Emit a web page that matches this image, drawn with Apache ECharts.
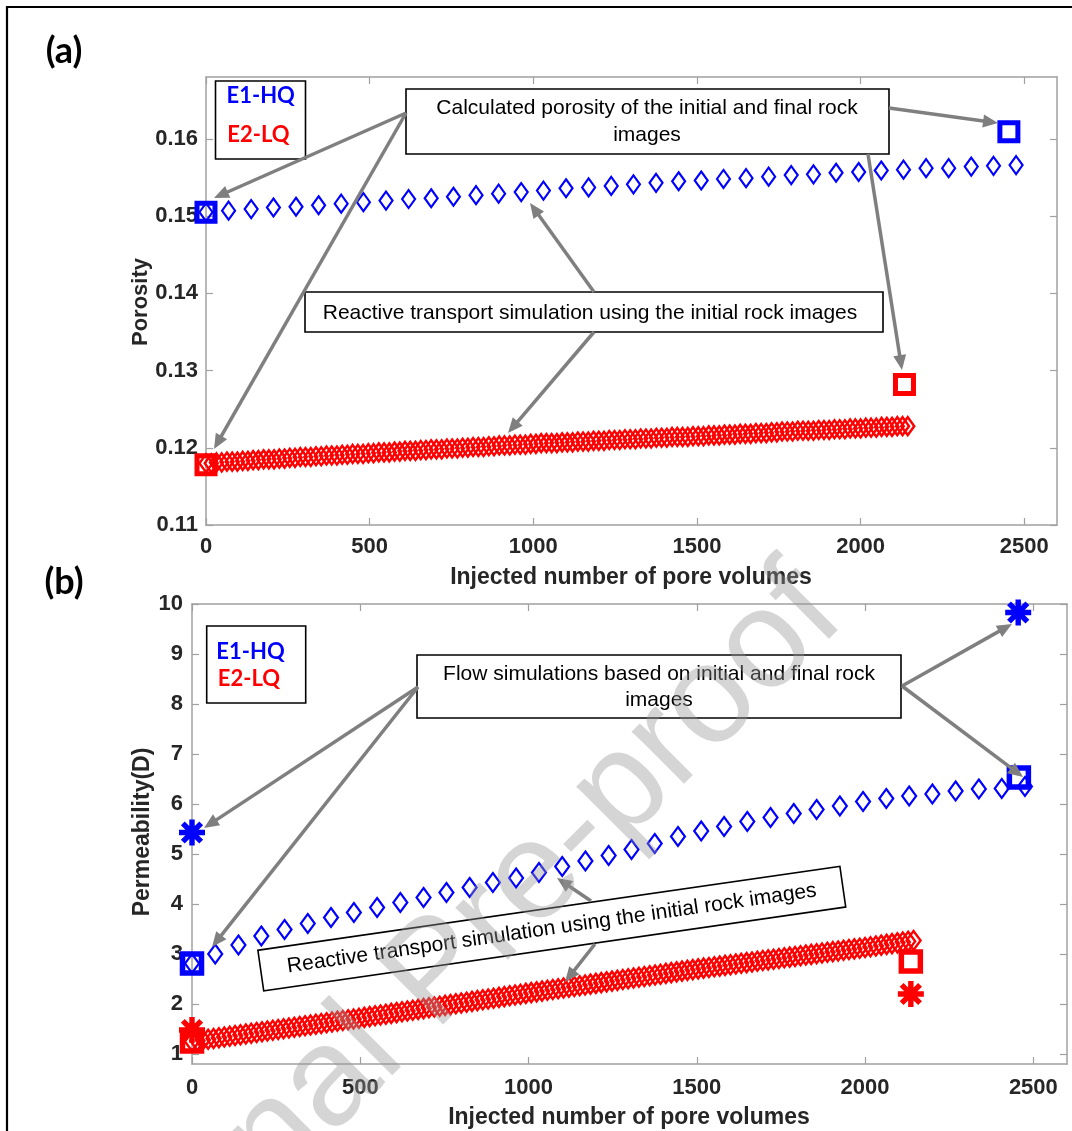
<!DOCTYPE html>
<html>
<head>
<meta charset="utf-8">
<script src="https://cdn.jsdelivr.net/npm/echarts@6/dist/echarts.min.js"></script>
<style>
html,body{margin:0;padding:0;background:#fff;}
#chart{width:1072px;height:1131px;}
</style>
</head>
<body>
<div id="chart"></div>
<script>
// ---------------- DATA ----------------
const xTicks = [0, 500, 1000, 1500, 2000, 2500];
const porTicks = [0.11, 0.12, 0.13, 0.14, 0.15, 0.16];
const permTicks = [1, 2, 3, 4, 5, 6, 7, 8, 9, 10];

// E1-HQ reactive transport simulation (injected pore volumes)
const pvBlue = [0,69,138,206,275,344,413,481,550,619,688,756,825,894,963,1031,1100,1169,1238,1306,1375,1444,1513,1581,1650,1719,1788,1856,1925,1994,2063,2131,2200,2269,2338,2406,2475];
const porBlue = [0.1505,0.1507,0.1509,0.1511,0.1512,0.1514,0.1516,0.1518,0.1520,0.1522,0.1523,0.1525,0.1527,0.1529,0.1531,0.1533,0.1536,0.1537,0.1539,0.1541,0.1543,0.1545,0.1546,0.1548,0.1549,0.1551,0.1553,0.1554,0.1556,0.1557,0.1559,0.1560,0.1562,0.1562,0.1564,0.1565,0.1566];
const permBlue = [2.81,3.00,3.18,3.36,3.49,3.61,3.73,3.83,3.93,4.03,4.13,4.23,4.33,4.43,4.52,4.63,4.75,4.86,4.97,5.09,5.21,5.35,5.46,5.55,5.65,5.73,5.81,5.89,5.96,6.05,6.11,6.16,6.20,6.26,6.30,6.31,6.35];

// E2-LQ reactive transport simulation
const pvRed = [0,16,32,48,64,80,96,112,128,144,160,176,192,208,224,240,256,272,288,304,320,336,352,368,384,400,416,432,448,464,480,496,512,528,544,560,576,592,608,624,640,656,672,688,704,720,736,752,768,784,800,816,832,848,864,880,896,912,928,944,960,976,992,1008,1024,1040,1056,1072,1088,1104,1120,1136,1152,1168,1184,1200,1216,1232,1248,1264,1280,1296,1312,1328,1344,1360,1376,1392,1408,1424,1440,1456,1472,1488,1504,1520,1536,1552,1568,1584,1600,1616,1632,1648,1664,1680,1696,1712,1728,1744,1760,1776,1792,1808,1824,1840,1856,1872,1888,1904,1920,1936,1952,1968,1984,2000,2016,2032,2048,2064,2080,2096,2112,2128,2144];
const porRed = [0.1180,0.1180,0.1181,0.1181,0.1182,0.1182,0.1182,0.1183,0.1183,0.1184,
0.1184,0.1185,0.1185,0.1185,0.1186,0.1186,0.1187,0.1187,0.1188,0.1188,
0.1188,0.1189,0.1189,0.1190,0.1190,0.1190,0.1191,0.1191,0.1192,0.1192,
0.1192,0.1193,0.1193,0.1194,0.1194,0.1194,0.1195,0.1195,0.1196,0.1196,
0.1196,0.1197,0.1197,0.1198,0.1198,0.1198,0.1199,0.1199,0.1199,0.1200,
0.1200,0.1201,0.1201,0.1201,0.1202,0.1202,0.1203,0.1203,0.1203,0.1204,
0.1204,0.1204,0.1205,0.1205,0.1206,0.1206,0.1206,0.1206,0.1207,0.1207,
0.1207,0.1208,0.1208,0.1208,0.1209,0.1209,0.1209,0.1210,0.1210,0.1210,
0.1211,0.1211,0.1211,0.1212,0.1212,0.1212,0.1213,0.1213,0.1213,0.1214,
0.1214,0.1214,0.1214,0.1215,0.1215,0.1215,0.1216,0.1216,0.1216,0.1217,
0.1217,0.1217,0.1218,0.1218,0.1218,0.1219,0.1219,0.1219,0.1220,0.1220,
0.1221,0.1221,0.1221,0.1222,0.1222,0.1222,0.1222,0.1223,0.1223,0.1223,
0.1224,0.1224,0.1224,0.1225,0.1225,0.1225,0.1226,0.1226,0.1226,0.1227,
0.1227,0.1227,0.1228,0.1228,0.1228];
const permRed = [1.250,1.265,1.280,1.295,1.310,1.325,1.340,1.355,1.370,1.385,
1.400,1.415,1.430,1.446,1.461,1.476,1.491,1.506,1.521,1.536,
1.551,1.566,1.581,1.596,1.611,1.626,1.641,1.656,1.671,1.686,
1.701,1.716,1.732,1.748,1.764,1.780,1.796,1.812,1.828,1.844,
1.860,1.876,1.892,1.908,1.924,1.940,1.956,1.972,1.988,2.004,
2.020,2.036,2.052,2.068,2.084,2.100,2.116,2.132,2.148,2.164,
2.180,2.196,2.212,2.228,2.243,2.258,2.274,2.289,2.304,2.320,
2.335,2.351,2.366,2.381,2.397,2.412,2.427,2.443,2.458,2.473,
2.489,2.504,2.520,2.535,2.550,2.566,2.581,2.596,2.612,2.627,
2.642,2.658,2.673,2.688,2.703,2.717,2.731,2.745,2.758,2.772,
2.786,2.800,2.814,2.827,2.841,2.855,2.869,2.882,2.896,2.910,
2.924,2.937,2.951,2.965,2.979,2.992,3.006,3.020,3.034,3.047,
3.061,3.075,3.089,3.102,3.116,3.130,3.146,3.161,3.177,3.192,
3.208,3.223,3.239,3.254,3.270];

// Calculated from initial / final rock images
const pvImgBlueA = [0, 2453];
const porImgBlue = [0.1505, 0.1609];
const pvImgRedA = [0, 2134];
const porImgRed = [0.1178, 0.1282];

// Flow simulations on initial / final rock images
const pvSqBlueB = [0, 2457];
const permSqBlue = [2.81, 6.53];
const pvStarBlueB = [0, 2455];
const permStarBlue = [5.43, 9.83];
const pvSqRedB = [0, 2136];
const permSqRed = [1.25, 2.85];
const pvStarRedB = [0, 2136];
const permStarRed = [1.48, 2.20];

// ---------------- CHART ----------------
const zip = (xs, ys) => xs.map((x, i) => [x, ys[i]]);
const BLUE = '#0000ff', RED = '#ff0000', GRAY = '#7f7f7f';
const FONT = '"Liberation Sans", Arial, sans-serif';
const AX_COLOR = '#a0a0a0';
const ASTERISK = 'path://M-12,-2.5L12,-2.5L12,2.5L-12,2.5Z M-2.5,-12L2.5,-12L2.5,12L-2.5,12Z M-6.72,-10.26L10.26,6.72L6.72,10.26L-10.26,-6.72Z M-10.26,6.72L6.72,-10.26L10.26,-6.72L-6.72,10.26Z';

function xAx(grid, pos, showLabel, margin) {
  return {
    gridIndex: grid, type: 'value', min: 0, max: 2600, position: pos,
    axisLine: { show: true, onZero: false, lineStyle: { color: AX_COLOR, width: 1.5 } },
    axisTick: { show: true, inside: true, length: 7, customValues: xTicks, lineStyle: { color: AX_COLOR, width: 1.2 } },
    axisLabel: { show: showLabel, customValues: xTicks, margin: margin, formatter: v => String(Math.round(v)), color: '#262626', fontSize: 22, fontWeight: 'bold', fontFamily: FONT },
    splitLine: { show: false }
  };
}
function yAx(grid, pos, min, max, ticks, showLabel, fmt, margin) {
  return {
    gridIndex: grid, type: 'value', min: min, max: max, position: pos,
    axisLine: { show: true, onZero: false, lineStyle: { color: AX_COLOR, width: 1.5 } },
    axisTick: { show: true, inside: true, length: 7, customValues: ticks, lineStyle: { color: AX_COLOR, width: 1.2 } },
    axisLabel: { show: showLabel, customValues: ticks, margin: margin, formatter: fmt, color: '#262626', fontSize: 22, fontWeight: 'bold', fontFamily: FONT },
    splitLine: { show: false }
  };
}
function diamonds(name, xi, yi, data, color, size, bw) {
  return { name: name, type: 'scatter', xAxisIndex: xi, yAxisIndex: yi, data: data, symbol: 'diamond', symbolSize: size, clip: false, silent: true,
    itemStyle: { color: 'rgba(0,0,0,0)', borderColor: color, borderWidth: bw, opacity: 1 }, emphasis: { disabled: true }, z: 2 };
}
function squares(name, xi, yi, data, color, size, bw) {
  return { name: name, type: 'scatter', xAxisIndex: xi, yAxisIndex: yi, data: data, symbol: 'rect', symbolSize: size, clip: false, silent: true,
    itemStyle: { color: 'rgba(0,0,0,0)', borderColor: color, borderWidth: bw, opacity: 1 }, emphasis: { disabled: true }, z: 3 };
}
function stars(name, xi, yi, data, color) {
  return { name: name, type: 'scatter', xAxisIndex: xi, yAxisIndex: yi, data: data, symbol: ASTERISK, symbolSize: 26, clip: false, silent: true,
    itemStyle: { color: color, borderWidth: 0, opacity: 1 }, emphasis: { disabled: true }, z: 3 };
}

function arrow(x1, y1, x2, y2) {
  const dx = x2 - x1, dy = y2 - y1, L = Math.hypot(dx, dy), ux = dx / L, uy = dy / L;
  const hl = 15, hw = 6.5;
  const bx = x2 - ux * hl, by = y2 - uy * hl;
  return [
    { type: 'line', silent: true, z: 50, shape: { x1: x1, y1: y1, x2: bx + ux * 2, y2: by + uy * 2 }, style: { stroke: GRAY, lineWidth: 3.5 } },
    { type: 'polygon', silent: true, z: 50, shape: { points: [[x2, y2], [bx - uy * hw, by + ux * hw], [bx + uy * hw, by - ux * hw]] }, style: { fill: GRAY } }
  ];
}
function box(x, y, w, h) {
  return { type: 'rect', silent: true, z: 40, shape: { x: x, y: y, width: w, height: h }, style: { fill: 'none', stroke: '#000', lineWidth: 1.6 } };
}
function txt(s, x, y, font, color, rot, lh) {
  const el = { type: 'text', silent: true, z: 45, x: x, y: y,
    style: { text: s, x: 0, y: 0, font: font, fill: color, align: 'center', verticalAlign: 'middle', textAlign: 'center', textVerticalAlign: 'middle', lineHeight: lh || undefined } };
  if (rot) el.rotation = rot;
  return el;
}

const ANNOT = '21px ' + FONT;
const LEG = 'bold 22px Lato, "Open Sans", sans-serif';
const TITLE = 'bold 23px ' + FONT;
const PANEL = 'bold 36px Lato, "Open Sans", sans-serif';

const elements = [].concat(
  [ { type: 'rect', silent: true, z: 1, shape: { x: 7, y: 7, width: 1100, height: 1150 }, style: { fill: 'none', stroke: '#000', lineWidth: 2.2 } } ],
  [ txt('(a)', 64, 51, PANEL, '#000'), txt('(b)', 64, 582, PANEL, '#000') ],
  [ txt('Porosity', 141, 302, 'bold 22px ' + FONT, '#262626', Math.PI / 2),
    txt('Injected number of pore volumes', 631, 578, TITLE, '#262626'),
    txt('Permeability(D)', 143, 832, TITLE, '#262626', Math.PI / 2),
    txt('Injected number of pore volumes', 629, 1118, TITLE, '#262626') ],
  // legends
  [ box(215.5, 81, 90, 78), txt('E1-HQ', 260.7, 96, LEG, BLUE), txt('E2-LQ', 258.4, 134.7, LEG, RED),
    box(206.7, 626, 99, 77), txt('E1-HQ', 250.5, 652.3, LEG, BLUE), txt('E2-LQ', 249, 679, LEG, RED) ],
  // panel (a) annotations
  [ box(406, 89, 483, 65), txt('Calculated porosity of the initial and final rock\nimages', 647, 122, ANNOT, '#000', 0, 27),
    box(305, 292, 578, 40), txt('Reactive transport simulation using the initial rock images', 590, 313, ANNOT, '#000') ],
  arrow(406, 113, 214, 198), arrow(406, 113, 214, 449), arrow(889, 108, 998, 123), arrow(868, 154, 902, 370),
  arrow(594, 292, 530, 203), arrow(594, 332, 508, 433),
  // panel (b) annotations
  [ box(417, 655, 484, 63), txt('Flow simulations based on initial and final rock\nimages', 659, 687, ANNOT, '#000', 0, 26) ],
  arrow(418, 687, 204, 828), arrow(418, 687, 212, 947), arrow(902, 686, 1012, 624), arrow(902, 686, 1023, 777),
  [ { type: 'group', silent: true, z: 40, x: 551.8, y: 928.6, rotation: 0.143,
      children: [
        { type: 'rect', silent: true, z: 40, shape: { x: -294, y: -20.5, width: 588, height: 41 }, style: { fill: 'none', stroke: '#000', lineWidth: 1.6 } },
        { type: 'text', silent: true, z: 45, style: { text: 'Reactive transport simulation using the initial rock images', x: 0, y: 0, font: ANNOT, fill: '#000', align: 'center', verticalAlign: 'middle', textAlign: 'center', textVerticalAlign: 'middle' } }
      ] } ],
  arrow(591, 901, 557, 878), arrow(595, 944, 565, 982),
  // watermark
  [ { type: 'text', silent: true, z: 100, x: 438, y: 975, rotation: Math.PI / 4,
      style: { text: 'Journal Pre-proof', x: 0, y: 0, font: '140px ' + FONT, fill: 'rgba(150,150,150,0.4)', align: 'center', verticalAlign: 'middle', textAlign: 'center', textVerticalAlign: 'middle' } } ]
);

const option = {
  animation: false,
  backgroundColor: '#ffffff',
  grid: [
    { left: 206, top: 77, width: 851, height: 448, containLabel: false },
    { left: 192, top: 604, width: 875, height: 460, containLabel: false }
  ],
  xAxis: [ xAx(0, 'bottom', true, 11), xAx(0, 'top', false, 8), xAx(1, 'bottom', true, 13), xAx(1, 'top', false, 8) ],
  yAxis: [
    yAx(0, 'left', 0.11, 0.168, porTicks, true, v => Number(v).toFixed(2), 8),
    yAx(0, 'right', 0.11, 0.168, porTicks, false, null, 8),
    yAx(1, 'left', 0.8, 10, permTicks, true, v => String(Math.round(v)), 9),
    yAx(1, 'right', 0.8, 10, permTicks, false, null, 8)
  ],
  series: [
    diamonds('E2-LQ', 0, 0, zip(pvRed, porRed), RED, [13, 18], 2.5),
    diamonds('E1-HQ', 0, 0, zip(pvBlue, porBlue), BLUE, [13, 18], 2.2),
    squares('E1-HQ images', 0, 0, zip(pvImgBlueA, porImgBlue), BLUE, 18, 5),
    squares('E2-LQ images', 0, 0, zip(pvImgRedA, porImgRed), RED, 18, 5),
    diamonds('E2-LQ', 2, 2, zip(pvRed, permRed), RED, [14, 19], 2.5),
    diamonds('E1-HQ', 2, 2, zip(pvBlue, permBlue), BLUE, [14, 19], 2.2),
    squares('E1-HQ flow', 2, 2, zip(pvSqBlueB, permSqBlue), BLUE, 19, 5.5),
    stars('E1-HQ flow*', 2, 2, zip(pvStarBlueB, permStarBlue), BLUE),
    squares('E2-LQ flow', 2, 2, zip(pvSqRedB, permSqRed), RED, 19, 5.5),
    stars('E2-LQ flow*', 2, 2, zip(pvStarRedB, permStarRed), RED)
  ],
  graphic: { elements: elements }
};

const chart = echarts.init(document.getElementById('chart'), null, { renderer: 'canvas' });
chart.setOption(option);
</script>
</body>
</html>
